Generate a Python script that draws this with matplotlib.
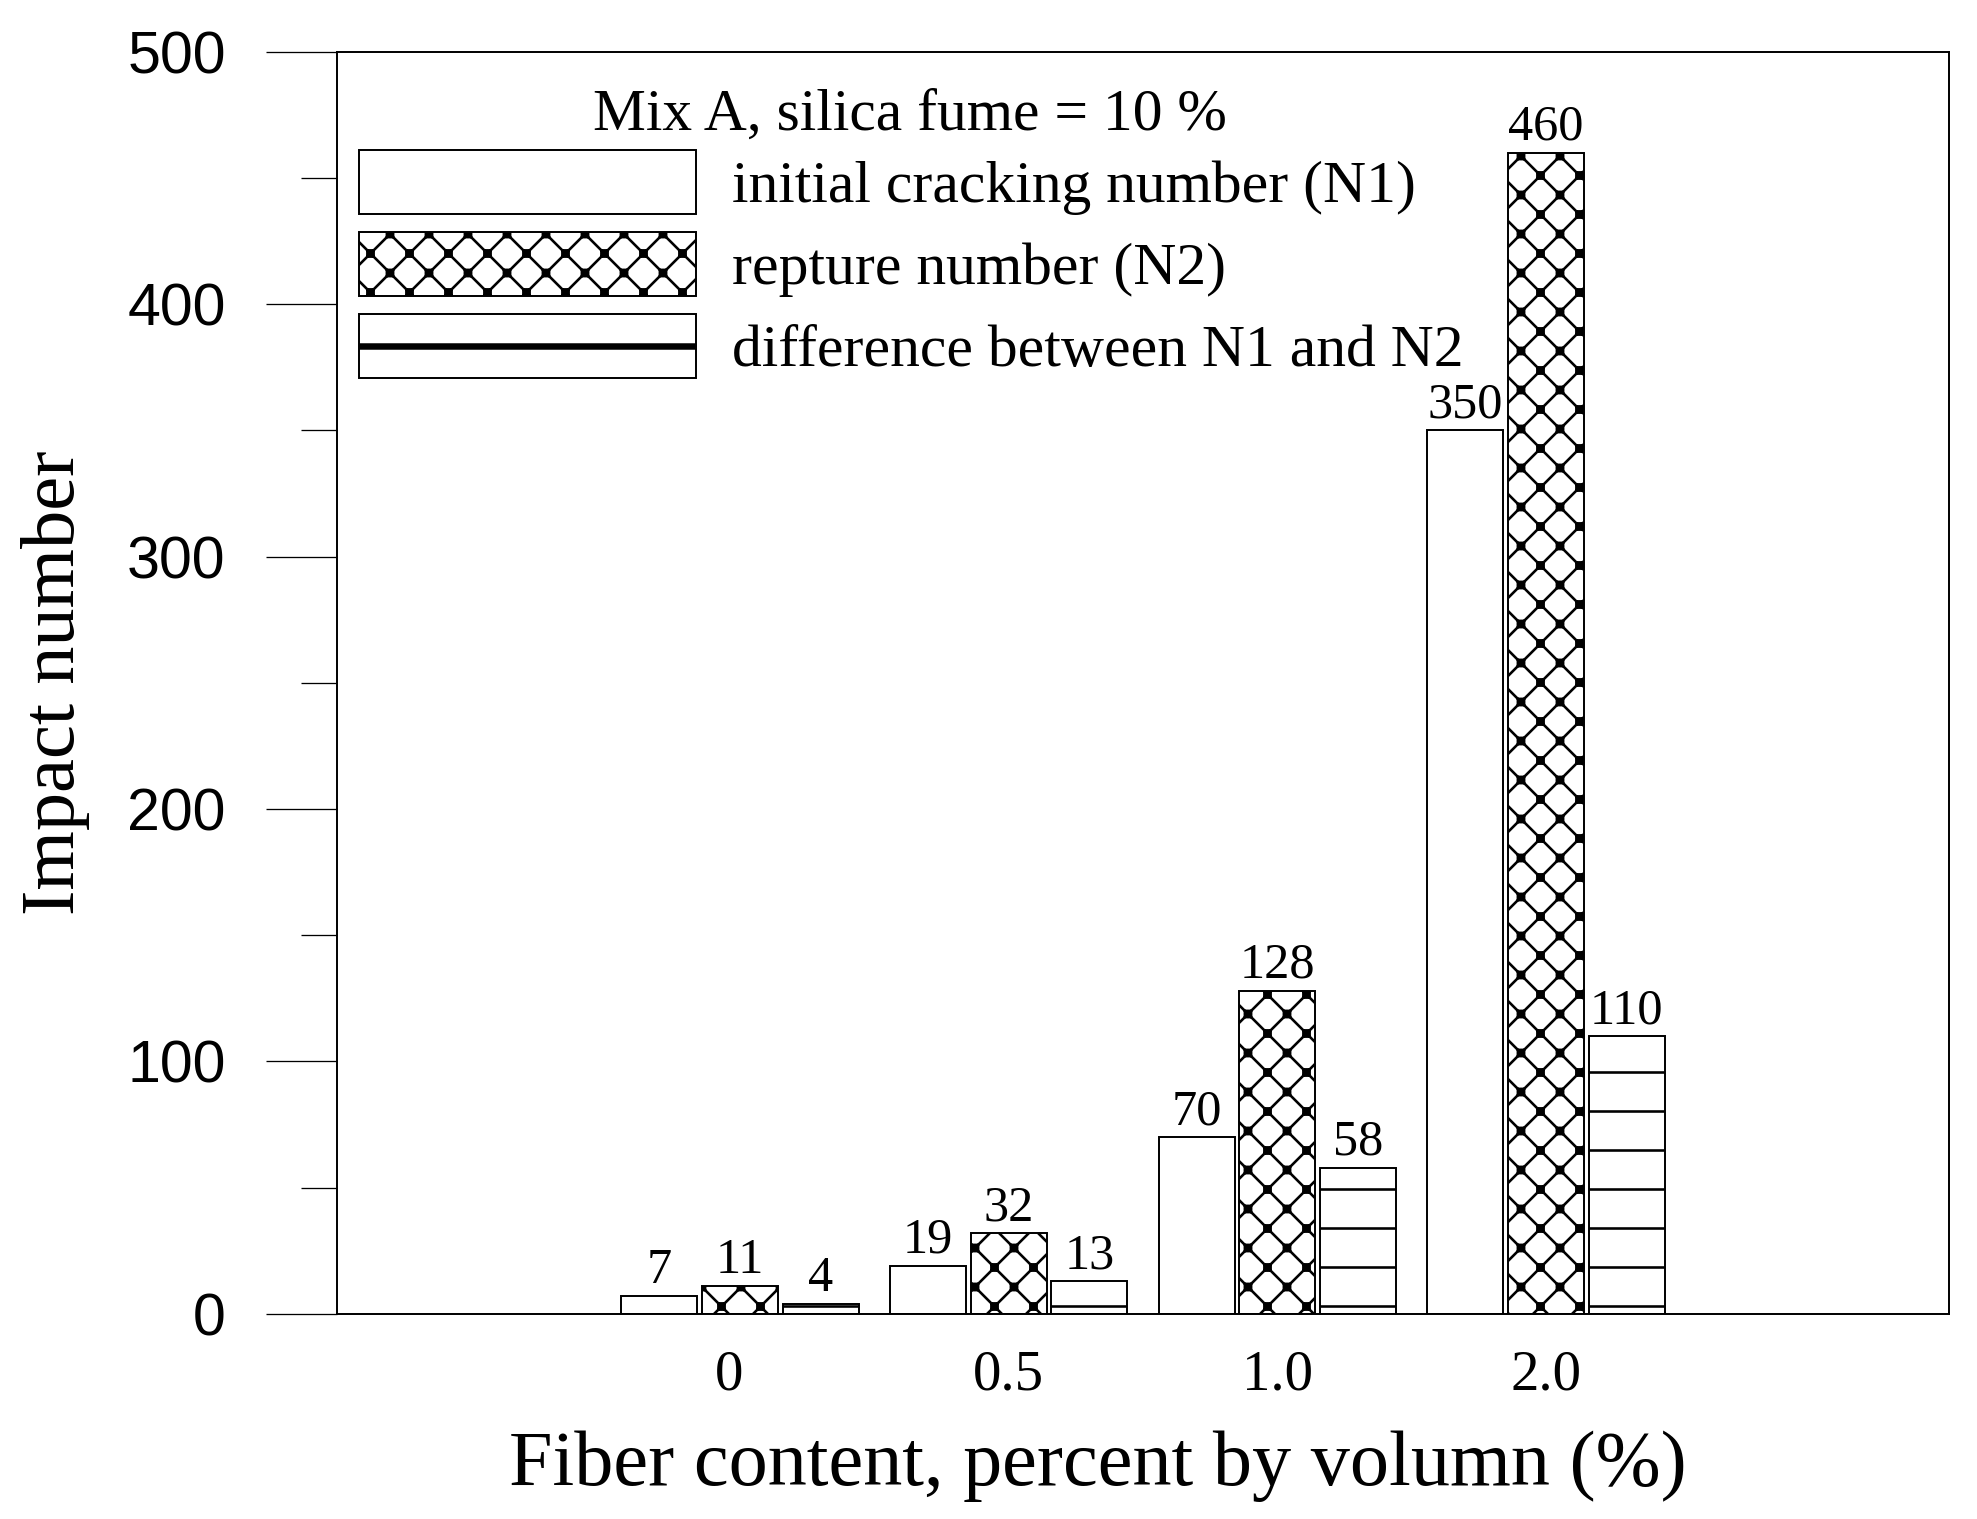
import numpy as np
import matplotlib
matplotlib.use('Agg')
import matplotlib.pyplot as plt
import matplotlib.hatch as mhatch
import matplotlib.transforms as mtrans
from matplotlib.path import Path
from matplotlib.patches import Rectangle
from matplotlib.lines import Line2D
from matplotlib.legend_handler import HandlerBase
from matplotlib.ticker import MultipleLocator

fiber = ['0', '0.5', '1.0', '2.0']
n1 = [7, 19, 70, 350]
n2 = [11, 32, 128, 460]
n_diff = [4, 13, 58, 110]
series_names = ['initial cracking number (N1)', 'repture number (N2)',
                'difference between N1 and N2']
legend_title = 'Mix A, silica fume = 10 %'


# black squares on the crossings of the 'xx' hatch ('*' is used as the key)
class CrossKnots(mhatch.HatchPatternBase):
    def __init__(self, hatch, density):
        n = hatch.count('*') * density * 2
        self.pts = []
        if n:
            self.pts = [(i / n, j / n) for i in range(n + 1)
                        for j in range(n + 1) if (i + j) % 2 == 0]
            self.half = 0.16 / n
        self.num_vertices = 5 * len(self.pts)

    def set_vertices_and_codes(self, vertices, codes):
        h = self.half
        sq = np.array([[-h, -h], [h, -h], [h, h], [-h, h], [-h, -h]])
        vertices[:] = np.concatenate([sq + p for p in self.pts])
        codes[:] = np.tile([Path.MOVETO, Path.LINETO, Path.LINETO,
                            Path.LINETO, Path.CLOSEPOLY], len(self.pts))


mhatch._hatch_types[mhatch._hatch_types.index(mhatch.Stars)] = CrossKnots


# legend key for the striped bars: white box with one line through the middle
class StripeKey(HandlerBase):
    def create_artists(self, legend, orig_handle, xdescent, ydescent,
                       width, height, fontsize, trans):
        box = Rectangle((-xdescent, -ydescent), width, height, facecolor='white',
                        edgecolor='black', linewidth=0.6, transform=trans)
        mid = height / 2 - ydescent
        line = Line2D([-xdescent, width - xdescent], [mid, mid], color='black',
                      linewidth=2.0, solid_capstyle='butt', transform=trans)
        return [box, line]


plt.rcParams['font.family'] = 'Liberation Serif'
plt.rcParams['hatch.linewidth'] = 0.8
plt.rcParams['hatch.color'] = 'black'

DPI = 234
fig = plt.figure(figsize=(1977 / DPI, 1519 / DPI), dpi=DPI)
ax = fig.add_axes([0.1705, 0.135, 0.8153, 0.831])

x = np.arange(len(fiber))
w = 0.283
step = 0.30
hatches = ['', 'xx*', '-']
containers = []
for k, (vals, name, hh) in enumerate(zip([n1, n2, n_diff], series_names, hatches)):
    bars = ax.bar(x + (k - 1) * step, vals, w, color='white', edgecolor='black',
                  linewidth=0.6, hatch=hh, label=name)
    containers.append(bars)
    for b, v in zip(bars, vals):
        ax.annotate(str(v), (b.get_x() + b.get_width() / 2, v),
                    xytext=(0, 4), textcoords='offset points',
                    ha='center', va='baseline', fontsize=15.5)

ax.set_xlim(-1.5, 4.5)
ax.set_ylim(0, 500)
ax.set_xticks(x)
ax.set_xticklabels(fiber, fontsize=17.5)
ax.tick_params(axis='x', length=0, pad=11)
# the "0" label sits a little left of its group in the original
lab0 = ax.xaxis.get_major_ticks()[0].label1
lab0.set_transform(lab0.get_transform() +
                   mtrans.ScaledTranslation(-11 / DPI, 0, fig.dpi_scale_trans))

ax.yaxis.set_major_locator(MultipleLocator(100))
ax.yaxis.set_minor_locator(MultipleLocator(50))
ax.tick_params(axis='y', which='major', length=22, width=0.4, pad=12.3)
ax.tick_params(axis='y', which='minor', length=11, width=0.4)
for lab in ax.get_yticklabels():
    lab.set_family('Liberation Sans')
    lab.set_fontsize(18.2)

for sp in ax.spines.values():
    sp.set_linewidth(0.6)

ax.set_xlabel('Fiber content, percent by volumn (%)', fontsize=24.1)
ax.set_ylabel('Impact number', fontsize=23.5)
ax.xaxis.set_label_coords(0.472, -0.092)
ax.yaxis.set_label_coords(-0.153, 0.5)

# legend title drawn on its own so the row spacing can differ from the title gap
ax.text(0.3555, 0.938, legend_title, transform=ax.transAxes,
        ha='center', va='baseline', fontsize=18.3)
ax.legend(containers, series_names, loc='upper left',
          bbox_to_anchor=(0.0136, 0.922), frameon=False,
          handler_map={containers[2]: StripeKey()},
          fontsize=18.33, handlelength=5.66, handleheight=1.263,
          handletextpad=0.6, labelspacing=0.29, borderpad=0, borderaxespad=0)

fig.savefig('out.png', dpi=DPI)
